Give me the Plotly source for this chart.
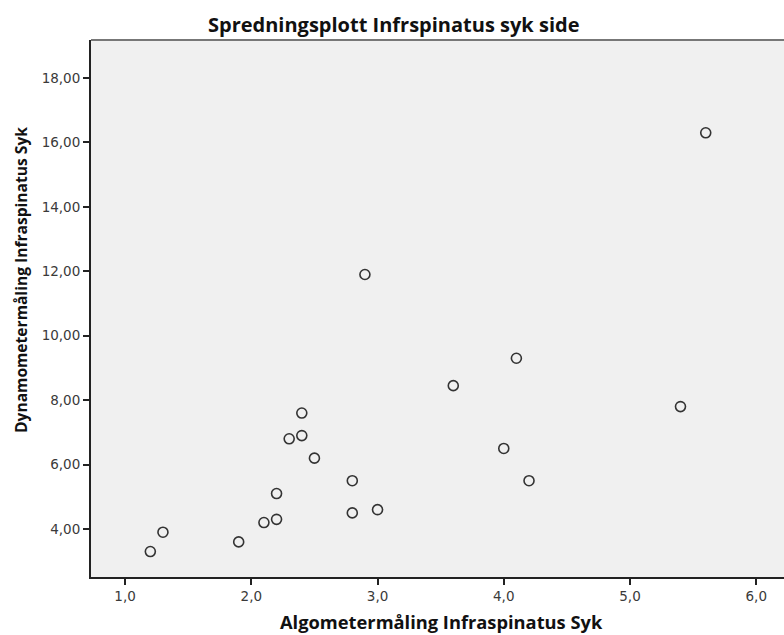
import plotly.graph_objects as go

# Data
algometer = [1.2, 1.3, 1.9, 2.1, 2.2, 2.2, 2.3, 2.4, 2.4, 2.5, 2.8, 2.8, 3.0, 2.9, 3.6, 4.0, 4.1, 4.2, 5.4, 5.6]
dynamometer = [3.3, 3.9, 3.6, 4.2, 4.3, 5.1, 6.8, 6.9, 7.6, 6.2, 5.5, 4.5, 4.6, 11.9, 8.45, 6.5, 9.3, 5.5, 7.8, 16.3]

x_tick_vals = [1, 2, 3, 4, 5, 6]
x_tick_text = ["1,0", "2,0", "3,0", "4,0", "5,0", "6,0"]
y_tick_vals = [4, 6, 8, 10, 12, 14, 16, 18]
y_tick_text = ["4,00", "6,00", "8,00", "10,00", "12,00", "14,00", "16,00", "18,00"]

title_text = "Spredningsplott Infrspinatus syk side"
x_title = "Algometermåling Infraspinatus Syk"
y_title = "Dynamometermåling Infraspinatus Syk"

W, H = 784, 635
ml, mr, mt, mb = 91, 0, 40, 58

fig = go.Figure()
fig.add_trace(go.Scatter(
    x=algometer, y=dynamometer, mode="markers",
    marker=dict(symbol="circle-open", size=10, color="#333333", line=dict(width=1.6, color="#333333")),
    showlegend=False, hoverinfo="x+y",
))

fig.update_layout(
    width=W, height=H,
    margin=dict(l=ml, r=mr, t=mt, b=mb),
    paper_bgcolor="white",
    plot_bgcolor="#f0f0f0",
    font=dict(family="DejaVu Sans", color="#222222"),
    showlegend=False,
)

tickfont = dict(size=13.5, color="#3a3a3a", family="DejaVu Sans")
fig.update_xaxes(
    range=[0.73, 6.22], tickvals=x_tick_vals, ticktext=x_tick_text,
    showgrid=False, zeroline=False,
    showline=True, linecolor="#222222", linewidth=2,
    ticks="outside", ticklen=6, tickwidth=2, tickcolor="#222222",
    tickfont=tickfont,
)
fig.update_yaxes(
    range=[2.51, 19.18], tickvals=y_tick_vals, ticktext=y_tick_text,
    showgrid=False, zeroline=False,
    showline=True, linecolor="#222222", linewidth=2,
    ticks="outside", ticklen=6, tickwidth=2, tickcolor="#222222",
    tickfont=tickfont,
)

# top border of plot area
fig.add_shape(type="line", xref="paper", yref="paper", x0=0, x1=1, y0=1, y1=1,
              line=dict(color="#777777", width=2))

pw = W - ml - mr
ph = H - mt - mb

def px_to_paper_x(px):
    return (px - ml) / pw

def px_to_paper_y(py):
    return (H - mb - py) / ph

title_font = "Open Sans"
fig.add_annotation(text="<b>" + title_text + "</b>", xref="paper", yref="paper",
                   x=px_to_paper_x(393), y=px_to_paper_y(24), showarrow=False,
                   xanchor="center", yanchor="middle",
                   font=dict(size=20, color="#111111", family=title_font))
fig.add_annotation(text="<b>" + x_title + "</b>", xref="paper", yref="paper",
                   x=px_to_paper_x(441), y=px_to_paper_y(621), showarrow=False,
                   xanchor="center", yanchor="middle",
                   font=dict(size=18.3, color="#111111", family=title_font))
fig.add_annotation(text="<b>" + y_title + "</b>", xref="paper", yref="paper",
                   x=px_to_paper_x(21), y=px_to_paper_y(280), showarrow=False,
                   xanchor="center", yanchor="middle", textangle=-90,
                   font=dict(size=15.6, color="#111111", family=title_font))

fig.write_html("out.html")
